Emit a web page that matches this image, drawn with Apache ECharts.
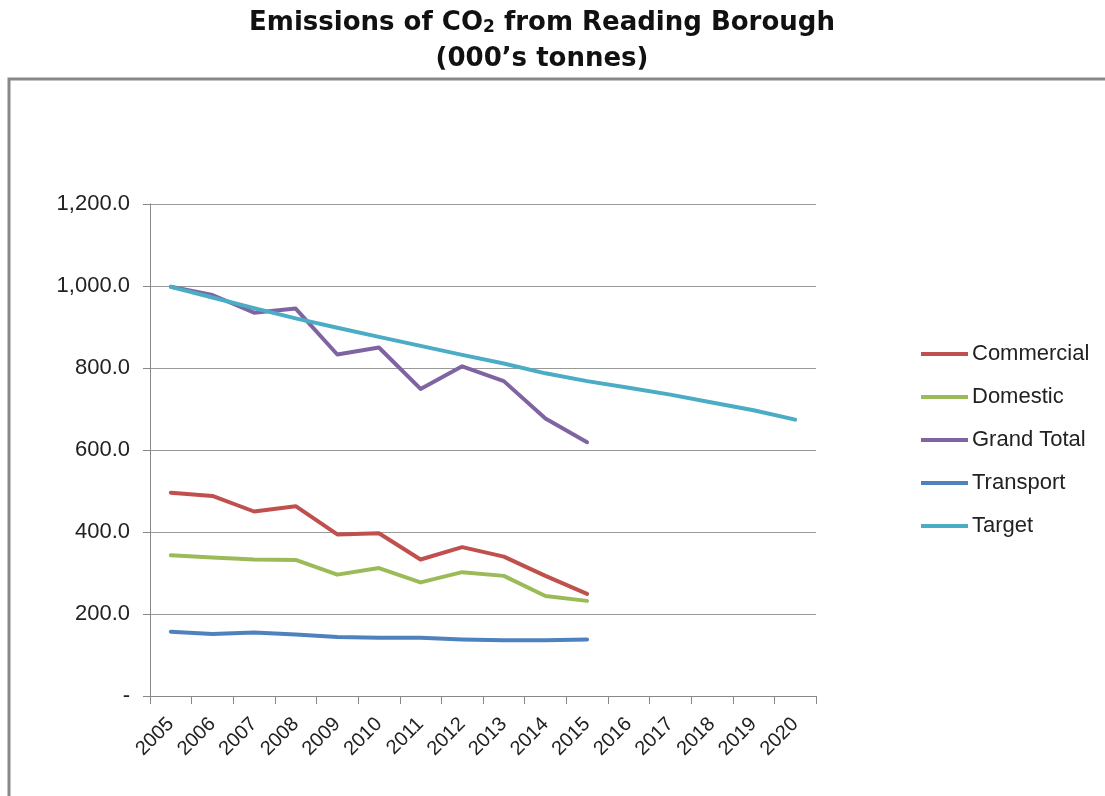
<!DOCTYPE html>
<html>
<head>
<meta charset="utf-8">
<script src="https://cdn.jsdelivr.net/npm/echarts@6/dist/echarts.min.js"></script>
<style>
html,body{margin:0;padding:0;background:#fff;}
#c{width:1105px;height:796px;}
</style>
</head>
<body>
<div id="c"></div>
<script>
const years = ['2005','2006','2007','2008','2009','2010','2011','2012','2013','2014','2015','2016','2017','2018','2019','2020'];
const commercial = [496, 488, 450, 463, 394, 397, 333, 363, 340, 293, 249];
const domestic   = [343, 338, 333, 332, 296, 312, 277, 302, 293, 244, 232];
const grandTotal = [998, 978, 935, 945, 833, 850, 749, 804, 768, 677, 619];
const transport  = [157, 151, 155, 150, 144, 142, 142, 138, 136, 136, 138];
const target     = [998, 972, 946, 921, 898, 876, 854, 832, 811, 787, 768, 752, 735, 716, 697, 674];
const yTicks = [0, 200, 400, 600, 800, 1000, 1200];

const chart = echarts.init(document.getElementById('c'));
const FONT = 'Liberation Sans';
const TFONT = 'DejaVu Sans';
function mk(name, data, color) {
  return {
    name, type: 'line', data, showSymbol: false, symbol: 'none',
    lineStyle: { color, width: 4, cap: 'round', join: 'round' },
    itemStyle: { color },
    emphasis: { disabled: true }, animation: false
  };
}
chart.setOption({
  animation: false,
  backgroundColor: '#fff',
  graphic: [
    { type: 'rect', shape: { x: 9, y: 79, width: 1200, height: 800 },
      style: { fill: 'none', stroke: '#888', lineWidth: 3 }, z: -1 },
    { type: 'text', x: 542, y: 23,
      style: {
        text: '{a|Emissions of CO}{s|2}{a| from Reading Borough}',
        textAlign: 'center', textVerticalAlign: 'middle',
        rich: {
          a: { fontFamily: TFONT, fontWeight: 'bold', fontSize: 26, fill: '#111', verticalAlign: 'middle' },
          s: { fontFamily: TFONT, fontWeight: 'bold', fontSize: 17, fill: '#111', verticalAlign: 'bottom', padding: [10, 0, 0, 0] }
        }
      } },
    { type: 'text', x: 542, y: 59,
      style: {
        text: '(000\u2019s tonnes)',
        textAlign: 'center', textVerticalAlign: 'middle',
        fontFamily: TFONT, fontWeight: 'bold', fontSize: 26, fill: '#111'
      } }
  ],
  grid: { left: 150, right: 289, top: 204, bottom: 100, containLabel: false },
  legend: {
    orient: 'vertical', left: 921, top: 343, padding: 0,
    icon: 'rect', itemWidth: 47, itemHeight: 4, itemGap: 21,
    textStyle: { fontFamily: FONT, fontSize: 22, color: '#222', lineHeight: 22, padding: [0, 0, 0, -1] },
    data: ['Commercial', 'Domestic', 'Grand Total', 'Transport', 'Target']
  },
  xAxis: {
    type: 'category', data: years, boundaryGap: true,
    axisLine: { lineStyle: { color: '#888', width: 1 } },
    axisTick: { show: true, length: 8, inside: false, lineStyle: { color: '#888' }, alignWithLabel: false },
    axisLabel: { rotate: 45, interval: 0, margin: 25, fontFamily: FONT, fontSize: 20, color: '#222' },
    splitLine: { show: false }
  },
  yAxis: {
    type: 'value', min: 0, max: 1200, interval: 200,
    axisLine: { show: true, lineStyle: { color: '#888', width: 1 } },
    axisTick: { show: true, length: 7, lineStyle: { color: '#888' } },
    axisLabel: {
      margin: 20, fontFamily: FONT, fontSize: 22, color: '#222',
      formatter: function (v) {
        if (v === 0) return '-';
        return v.toLocaleString('en-US', { minimumFractionDigits: 1, maximumFractionDigits: 1 });
      }
    },
    splitLine: { show: true, lineStyle: { color: '#999', width: 1 } }
  },
  series: [
    mk('Commercial', commercial, '#C0504D'),
    mk('Domestic', domestic, '#9BBB59'),
    mk('Grand Total', grandTotal, '#8064A2'),
    mk('Transport', transport, '#4F81BD'),
    mk('Target', target, '#4BACC6')
  ]
});
</script>
</body>
</html>
